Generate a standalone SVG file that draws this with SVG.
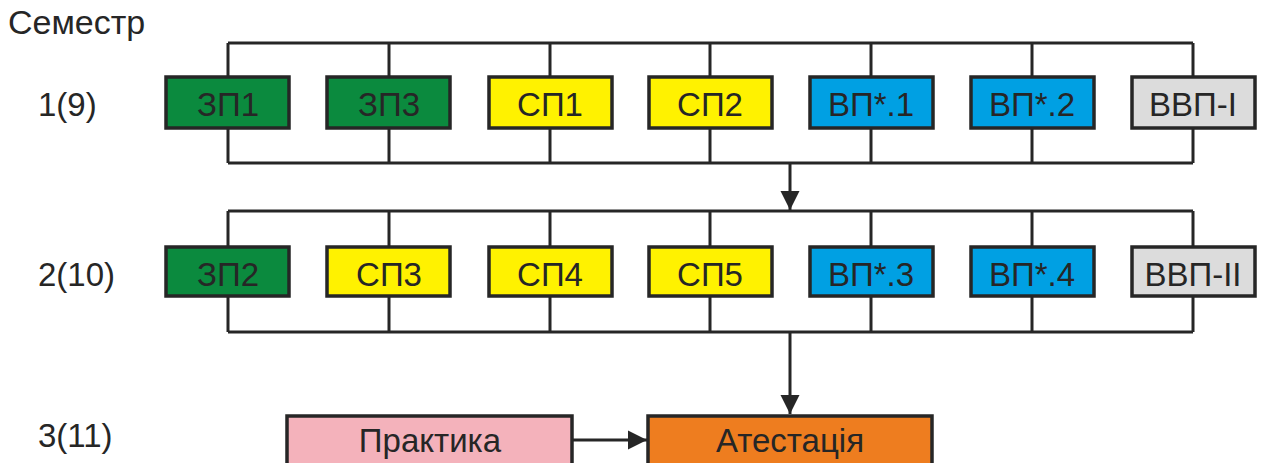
<svg xmlns="http://www.w3.org/2000/svg" width="1262" height="463" viewBox="0 0 1262 463">
<style>
text{font-family:"Liberation Sans",Arial,sans-serif;font-size:33px;fill:#262626}
.b{stroke:#262626;stroke-width:3.5}
.c{text-anchor:middle}
.ln{stroke:#262626;stroke-width:3;fill:none}
.g{fill:#0b8a3e}.y{fill:#fff200}.u{fill:#00a0e3}.s{fill:#dcdcdc}.p{fill:#f4b2bb}.o{fill:#ee7d1f}
</style>
<defs>
<marker id="ah" viewBox="0 0 10 10" refX="10" refY="5" markerWidth="6.5" markerHeight="6.5" markerUnits="strokeWidth" orient="auto">
<path d="M0,0 L10,5 L0,10 z" fill="#262626"/>
</marker>
</defs>
<rect width="1262" height="463" fill="#fff"/>
<g id="labels">
<text x="8" y="34" style="font-size:34px">Семестр</text>
<text x="38" y="116">1(9)</text>
<text x="38" y="286">2(10)</text>
<text x="38" y="447">3(11)</text>
</g>
<g id="connectors">
<path class="ln" d="M228,43 H1193 M228,163 H1193 M228,211 H1193 M228,332 H1193"/>
<path class="ln" d="M228,43V77 M389,43V77 M550,43V77 M710,43V77 M871,43V77 M1032,43V77 M1193,43V77 M228,128V163 M389,128V163 M550,128V163 M710,128V163 M871,128V163 M1032,128V163 M1193,128V163"/>
<path class="ln" d="M228,211V247 M389,211V247 M550,211V247 M710,211V247 M871,211V247 M1032,211V247 M1193,211V247 M228,296V332 M389,296V332 M550,296V332 M710,296V332 M871,296V332 M1032,296V332 M1193,296V332"/>
<line class="ln" x1="790" y1="163" x2="790" y2="210" marker-end="url(#ah)"/>
<line class="ln" x1="790" y1="332" x2="790" y2="414" marker-end="url(#ah)"/>
<line class="ln" x1="572" y1="440" x2="647" y2="440" marker-end="url(#ah)"/>
</g>
<g id="n-zp1"><rect class="b g" x="166" y="77" width="123" height="51"/><text class="c" x="228" y="116">ЗП1</text></g>
<g id="n-zp3"><rect class="b g" x="327" y="77" width="123" height="51"/><text class="c" x="389" y="116">ЗП3</text></g>
<g id="n-sp1"><rect class="b y" x="489" y="77" width="123" height="51"/><text class="c" x="550" y="116">СП1</text></g>
<g id="n-sp2"><rect class="b y" x="649" y="77" width="123" height="51"/><text class="c" x="710" y="116">СП2</text></g>
<g id="n-vp1"><rect class="b u" x="810" y="77" width="123" height="51"/><text class="c" x="871" y="116">ВП*.1</text></g>
<g id="n-vp2"><rect class="b u" x="971" y="77" width="123" height="51"/><text class="c" x="1032" y="116">ВП*.2</text></g>
<g id="n-vvp1"><rect class="b s" x="1132" y="77" width="123" height="51"/><text class="c" x="1193" y="116">ВВП-I</text></g>
<g id="n-zp2"><rect class="b g" x="166" y="247" width="123" height="49"/><text class="c" x="228" y="286">ЗП2</text></g>
<g id="n-sp3"><rect class="b y" x="327" y="247" width="123" height="49"/><text class="c" x="389" y="286">СП3</text></g>
<g id="n-sp4"><rect class="b y" x="489" y="247" width="123" height="49"/><text class="c" x="550" y="286">СП4</text></g>
<g id="n-sp5"><rect class="b y" x="649" y="247" width="123" height="49"/><text class="c" x="710" y="286">СП5</text></g>
<g id="n-vp3"><rect class="b u" x="810" y="247" width="123" height="49"/><text class="c" x="871" y="286">ВП*.3</text></g>
<g id="n-vp4"><rect class="b u" x="971" y="247" width="123" height="49"/><text class="c" x="1032" y="286">ВП*.4</text></g>
<g id="n-vvp2"><rect class="b s" x="1132" y="247" width="123" height="49"/><text class="c" x="1193" y="286">ВВП-II</text></g>
<g id="n-prak"><rect class="b p" x="287" y="416" width="285" height="60"/><text class="c" x="430" y="452">Практика</text></g>
<g id="n-atest"><rect class="b o" x="648" y="416" width="284" height="60"/><text class="c" x="790" y="452">Атестація</text></g>
</svg>
